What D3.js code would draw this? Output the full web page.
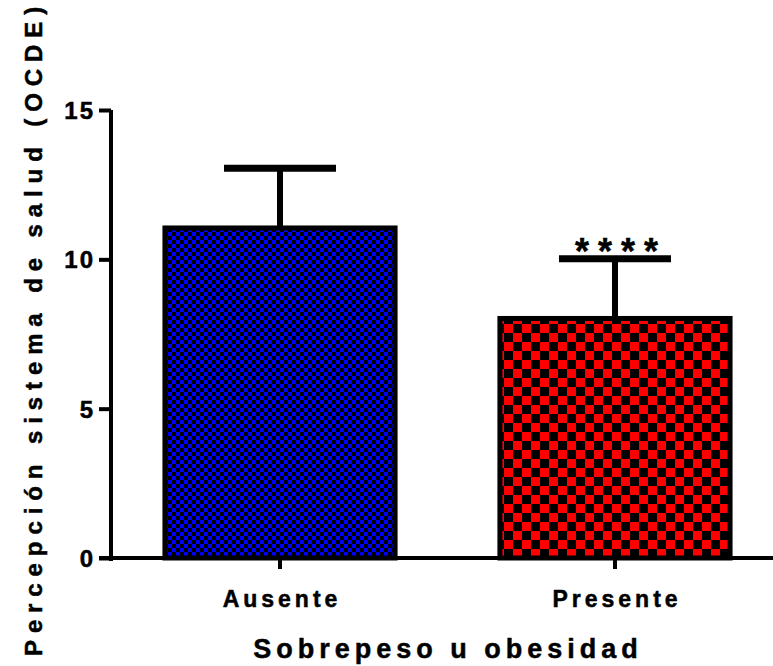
<!DOCTYPE html>
<html>
<head>
<meta charset="utf-8">
<script src="https://cdn.jsdelivr.net/npm/d3@7"></script>
<style>
  body { margin: 0; background: #fff; }
  svg { display: block; font-family: Arial, "Liberation Sans", sans-serif; font-weight: bold; }
  svg text { stroke: #000; stroke-width: 0.5px; }
</style>
</head>
<body>
<svg id="chart" width="773" height="666"></svg>
<script>
// data
var categories = ["Ausente", "Presente"];
var means = [11.05, 8.02];
var sds = [2.0, 2.0];
var yTicks = [0, 5, 10, 15];
var marks = ["", "****"];
var xTitle = "Sobrepeso u obesidad";
var yTitle = "Percepción sistema de salud (OCDE)";

var svg = d3.select("svg#chart");

var y = d3.scaleLinear().domain([0, 15]).range([558, 110]);
var x = d3.scaleBand().domain(categories)
  .range([110, 785])
  .paddingInner(0.313)
  .paddingOuter(0.164);

// checker patterns
var defs = svg.append("defs");
var patterns = [
  {id: "chkBlue", size: 4, color: "#0000ff"},
  {id: "chkRed", size: 9, color: "#ff0000"}
];
patterns.forEach(function(p) {
  var pat = defs.append("pattern")
    .attr("id", p.id)
    .attr("patternUnits", "userSpaceOnUse")
    .attr("width", p.size * 2)
    .attr("height", p.size * 2);
  pat.append("rect").attr("width", p.size * 2).attr("height", p.size * 2).attr("fill", "#000");
  pat.append("rect").attr("width", p.size).attr("height", p.size).attr("fill", p.color);
  pat.append("rect").attr("x", p.size).attr("y", p.size).attr("width", p.size).attr("height", p.size).attr("fill", p.color);
});

// bars
svg.selectAll(".bar")
  .data(categories)
  .enter().append("rect")
  .attr("class", "bar")
  .attr("x", function(d) { return x(d); })
  .attr("y", function(d, i) { return y(means[i]); })
  .attr("width", x.bandwidth())
  .attr("height", function(d, i) { return y(0) - y(means[i]); })
  .attr("fill", function(d, i) { return "url(#" + patterns[i].id + ")"; })
  .attr("stroke", "#000")
  .attr("stroke-width", 5);

// error bars (upper only)
var capHalf = 56;
var err = svg.append("g").attr("class", "errors");
categories.forEach(function(c, i) {
  var cx = x(c) + x.bandwidth() / 2;
  err.append("line")
    .attr("x1", cx).attr("x2", cx)
    .attr("y1", y(means[i])).attr("y2", y(means[i] + sds[i]))
    .attr("stroke", "#000").attr("stroke-width", 6);
  err.append("line")
    .attr("x1", cx - capHalf).attr("x2", cx + capHalf)
    .attr("y1", y(means[i] + sds[i])).attr("y2", y(means[i] + sds[i]))
    .attr("stroke", "#000").attr("stroke-width", 7);
  if (marks[i]) {
    svg.append("text")
      .attr("x", cx + 6)
      .attr("y", y(means[i] + sds[i]) + 5)
      .attr("text-anchor", "middle")
      .style("font-size", "36px")
      .style("letter-spacing", "9px")
      .text(marks[i]);
  }
});

// y axis
var yAxis = svg.append("g")
  .attr("class", "axis axis--y")
  .attr("transform", "translate(111,0)")
  .call(d3.axisLeft(y).tickValues(yTicks).tickSize(12).tickSizeOuter(0));
yAxis.select(".domain").attr("stroke-width", 4).attr("d", "M0," + (y(0) + 3) + "V" + y(15));
yAxis.selectAll(".tick line").attr("stroke-width", 4);
yAxis.selectAll(".tick text")
  .attr("x", -16)
  .attr("dy", "0.36em")
  .style("font-size", "24px")
  .style("font-family", "Arial, 'Liberation Sans', sans-serif")
  .style("font-weight", "bold")
  .style("letter-spacing", "2px")
  .attr("fill", "#000");

// x axis
var xAxis = svg.append("g")
  .attr("class", "axis axis--x")
  .attr("transform", "translate(0," + y(0) + ")")
  .call(d3.axisBottom(x).tickSize(11).tickSizeOuter(0));
xAxis.select(".domain").attr("stroke-width", 4).attr("d", "M99,0H773");
xAxis.selectAll(".tick line").attr("stroke-width", 4);
xAxis.selectAll(".tick text")
  .attr("x", 2)
  .attr("y", 49)
  .attr("dy", 0)
  .style("font-size", "23px")
  .style("font-family", "Arial, 'Liberation Sans', sans-serif")
  .style("font-weight", "bold")
  .style("letter-spacing", "4px")
  .attr("fill", "#000");

// titles
svg.append("text")
  .attr("x", 448)
  .attr("y", 658)
  .attr("text-anchor", "middle")
  .style("font-size", "27px")
  .style("letter-spacing", "5px")
  .text(xTitle);

svg.append("text")
  .attr("transform", "translate(42,328) rotate(-90)")
  .attr("text-anchor", "middle")
  .style("font-size", "24px")
  .style("letter-spacing", "6.9px")
  .text(yTitle);
</script>
</body>
</html>
